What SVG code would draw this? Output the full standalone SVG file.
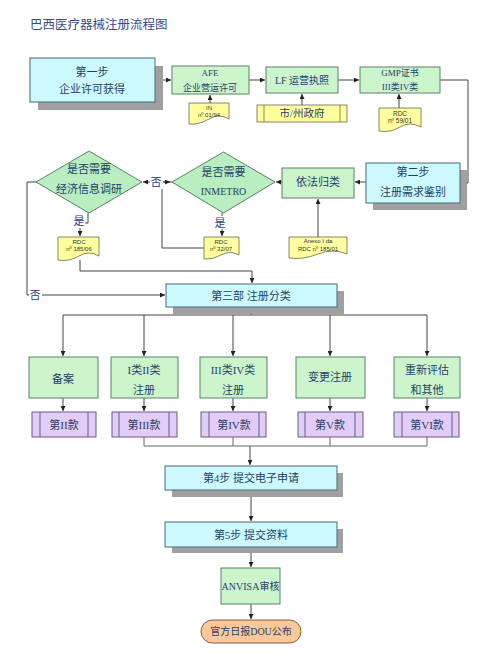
<svg xmlns="http://www.w3.org/2000/svg" width="500" height="656" viewBox="0 0 500 656">
<style>
text{font-family:"Liberation Serif","Noto Sans CJK SC",serif;fill:#1f3f6a;text-anchor:middle;dominant-baseline:central}
.t{font-size:11px}
.s{font-size:9px}
.d{font-family:"Liberation Sans","Noto Sans CJK SC",sans-serif;font-size:6px;fill:#333}
.lbl{font-size:11px;fill:#2a3a8a}
.cy{fill:#ccfaff;stroke:#4a6a78;stroke-width:1}
.gr{fill:#ccf5cc;stroke:#5a8268;stroke-width:1}
.dm{fill:#b8eec0;stroke:#5a8268;stroke-width:1}
.ye{fill:#ffff9e;stroke:#6a6a50;stroke-width:0.8}
.pu{fill:#e2ccf8;stroke:#6a5a82;stroke-width:1}
.sh{fill:#a0a0a0}
.ln{fill:none;stroke:#444;stroke-width:1}
.lg{fill:none;stroke:#666;stroke-width:1}
</style>
<defs>
<marker id="ah" viewBox="0 0 8 8" refX="8" refY="4" markerWidth="5" markerHeight="5" orient="auto">
<path d="M0,0 L8,4 L0,8 z" fill="#222"/>
</marker>
</defs>
<rect width="500" height="656" fill="#fff"/>
<text x="30" y="25" style="font-size:12.5px;fill:#3a4a8a;text-anchor:start">巴西医疗器械注册流程图</text>

<g id="connectors">
<path class="ln" d="M155,80 H171" marker-end="url(#ah)"/>
<path class="ln" d="M210,103 V95" marker-end="url(#ah)"/>
<path class="ln" d="M249,80 H265" marker-end="url(#ah)"/>
<path class="ln" d="M302,105 V94" marker-end="url(#ah)"/>
<path class="ln" d="M338,80 H359" marker-end="url(#ah)"/>
<path class="ln" d="M399,108 V94" marker-end="url(#ah)"/>
<path class="ln" d="M440,80 H468 V183 H461" marker-end="url(#ah)"/>
<path class="ln" d="M366,182 H355" marker-end="url(#ah)"/>
<path class="ln" d="M318,237 V199" marker-end="url(#ah)"/>
<path class="ln" d="M282,182 H276" marker-end="url(#ah)"/>
<path class="ln" d="M172,182 H143" marker-end="url(#ah)"/>
<path class="ln" d="M204,248 H162 V182 H170" marker-end="url(#ah)"/>
<path class="ln" d="M222,213 V236" marker-end="url(#ah)"/>
<path class="ln" d="M88,213 V223 H80 V236" marker-end="url(#ah)"/>
<path class="ln" d="M80,260 V271 H252 V283" marker-end="url(#ah)"/>
<path class="ln" d="M36,182 H27 V295 H165" marker-end="url(#ah)"/>
<path class="ln" d="M251,307 V315 M63,315 H427"/>
<path class="ln" d="M63,315 V356" marker-end="url(#ah)"/>
<path class="ln" d="M144,315 V356" marker-end="url(#ah)"/>
<path class="ln" d="M233,315 V356" marker-end="url(#ah)"/>
<path class="ln" d="M330,315 V356" marker-end="url(#ah)"/>
<path class="ln" d="M427,315 V356" marker-end="url(#ah)"/>
<path class="ln" d="M63,398 V411" marker-end="url(#ah)"/>
<path class="ln" d="M144,398 V411" marker-end="url(#ah)"/>
<path class="ln" d="M233,398 V411" marker-end="url(#ah)"/>
<path class="ln" d="M330,398 V411" marker-end="url(#ah)"/>
<path class="ln" d="M427,398 V411" marker-end="url(#ah)"/>
<path class="lg" d="M144,437 V446 H427 V437 M233,437 V446 M330,437 V446"/>
<path class="ln" d="M250,446 V465" marker-end="url(#ah)"/>
<path class="ln" d="M251,490 V521" marker-end="url(#ah)"/>
<path class="ln" d="M251,547 V567" marker-end="url(#ah)"/>
<path class="ln" d="M251,604 V619" marker-end="url(#ah)"/>
<rect x="150" y="175" width="13" height="14" fill="#fff"/>
<text class="lbl" x="156" y="182">否</text>
<rect x="29" y="288" width="13" height="14" fill="#fff"/>
<text class="lbl" x="35" y="295">否</text>
<rect x="73" y="215" width="12" height="13" fill="#fff"/>
<text class="lbl" x="79" y="221">是</text>
<rect x="214" y="216" width="13" height="13" fill="#fff"/>
<text class="lbl" x="220" y="223">是</text>
</g>

<g id="step1">
<rect class="sh" x="38" y="66" width="125" height="44"/>
<rect class="cy" x="30" y="58" width="125" height="44"/>
<text class="t" x="92" y="72">第一步</text>
<text class="t" x="92" y="89">企业许可获得</text>
</g>
<g id="afe">
<rect class="gr" x="172" y="66" width="77" height="28"/>
<text class="s" x="210" y="73">AFE</text>
<text class="s" x="210" y="88">企业营运许可</text>
</g>
<g id="doc-in">
<path class="ye" d="M189,103 H229 V119 Q219,113 209,119 T189,124 Z"/>
<text class="d" x="209" y="108">IN</text>
<text class="d" x="209" y="115">nº 01/94</text>
</g>
<g id="lf">
<rect class="gr" x="266" y="67" width="72" height="26"/>
<text class="t" x="302" y="80" style="font-size:10px">LF 运营执照</text>
</g>
<g id="gov">
<rect class="ye" x="257" y="105" width="90" height="17"/>
<path d="M264,105 V122 M340,105 V122" stroke="#6a6a50" stroke-width="0.8"/>
<text class="t" x="302" y="113.5" style="font-size:10.5px">市/州政府</text>
</g>
<g id="gmp">
<rect class="gr" x="360" y="67" width="80" height="26"/>
<text class="s" x="400" y="73">GMP证书</text>
<text class="s" x="400" y="87">III类IV类</text>
</g>
<g id="doc-5901">
<path class="ye" d="M379,108 H421 V127 Q410,121 400,127 T379,131 Z"/>
<text class="d" x="400" y="113" style="font-size:6.5px">RDC</text>
<text class="d" x="400" y="120" style="font-size:6.5px">nº 59/01</text>
</g>
<g id="step2">
<rect class="sh" x="373" y="170" width="94" height="40"/>
<rect class="cy" x="366" y="163" width="94" height="40"/>
<text class="t" x="413" y="172">第二步</text>
<text class="t" x="413" y="192">注册需求鉴别</text>
</g>
<g id="classify">
<rect class="gr" x="282" y="168" width="72" height="30"/>
<text class="t" x="318" y="182">依法归类</text>
</g>
<g id="doc-anexo">
<path class="ye" d="M289,237 H347 V254 Q333,248 318,254 T289,258 Z"/>
<text class="d" x="318" y="241">Anexo I da</text>
<text class="d" x="318" y="249">RDC nº 185/01</text>
</g>
<g id="inmetro">
<path class="dm" d="M223.5,152 L275,182 L223.5,213 L172,182 Z"/>
<text class="t" x="223.5" y="172">是否需要</text>
<text class="t" x="223.5" y="191" style="font-size:10px">INMETRO</text>
</g>
<g id="econ">
<path class="dm" d="M89,151 L142,182 L89,213 L36,182 Z"/>
<text class="t" x="89" y="169">是否需要</text>
<text class="t" x="89" y="189">经济信息调研</text>
</g>
<g id="doc-3207">
<path class="ye" d="M204,237 H239 V255 Q230,250 221,255 T204,259 Z"/>
<text class="d" x="221" y="242">RDC</text>
<text class="d" x="221" y="249">nº 32/07</text>
</g>
<g id="doc-18506">
<path class="ye" d="M58,237 H99 V256 Q89,250 79,256 T58,260 Z"/>
<text class="d" x="79" y="242">RDC</text>
<text class="d" x="79" y="249">nº 185/06</text>
</g>
<g id="step3">
<rect class="sh" x="173" y="291" width="171" height="23"/>
<rect class="cy" x="166" y="284" width="171" height="23"/>
<text class="t" x="251" y="295.5">第三部  注册分类</text>
</g>
<g id="cat1">
<rect class="gr" x="29" y="357" width="69" height="41"/>
<text class="t" x="63" y="379">备案</text>
</g>
<g id="cat2">
<rect class="gr" x="111" y="357" width="67" height="41"/>
<text class="t" x="144" y="370">I类II类</text>
<text class="t" x="144" y="390">注册</text>
</g>
<g id="cat3">
<rect class="gr" x="200" y="357" width="67" height="41"/>
<text class="t" x="233" y="370">III类IV类</text>
<text class="t" x="233" y="390">注册</text>
</g>
<g id="cat4">
<rect class="gr" x="296" y="357" width="69" height="41"/>
<text class="t" x="330" y="377">变更注册</text>
</g>
<g id="cat5">
<rect class="gr" x="394" y="357" width="66" height="41"/>
<text class="t" x="427" y="370">重新评估</text>
<text class="t" x="427" y="390">和其他</text>
</g>
<g id="art2">
<rect class="pu" x="32" y="412" width="64" height="25"/>
<path d="M40,412 V437 M88,412 V437" stroke="#6a5a82"/>
<text class="t" x="64" y="425">第II款</text>
</g>
<g id="art3">
<rect class="pu" x="112" y="412" width="65" height="25"/>
<path d="M119,412 V437 M169,412 V437" stroke="#6a5a82"/>
<text class="t" x="144" y="425">第III款</text>
</g>
<g id="art4">
<rect class="pu" x="201" y="412" width="65" height="25"/>
<path d="M209,412 V437 M259,412 V437" stroke="#6a5a82"/>
<text class="t" x="234" y="425">第IV款</text>
</g>
<g id="art5">
<rect class="pu" x="298" y="412" width="65" height="25"/>
<path d="M305,412 V437 M355,412 V437" stroke="#6a5a82"/>
<text class="t" x="330" y="425">第V款</text>
</g>
<g id="art6">
<rect class="pu" x="394" y="412" width="65" height="25"/>
<path d="M402,412 V437 M452,412 V437" stroke="#6a5a82"/>
<text class="t" x="427" y="425">第VI款</text>
</g>
<g id="step4">
<rect class="sh" x="172" y="473" width="171" height="24"/>
<rect class="cy" x="165" y="466" width="172" height="24"/>
<text class="t" x="251" y="478">第4步  提交电子申请</text>
</g>
<g id="step5">
<rect class="sh" x="172" y="529" width="171" height="24"/>
<rect class="cy" x="165" y="522" width="172" height="25"/>
<text class="t" x="251" y="534.5">第5步  提交资料</text>
</g>
<g id="anvisa">
<rect class="gr" x="221" y="568" width="59" height="36"/>
<text class="t" x="250.5" y="586" style="font-size:10px">ANVISA审核</text>
</g>
<g id="dou">
<rect x="201" y="620" width="100" height="23" rx="11.5" fill="#fbc999" stroke="#8a5a3a" stroke-width="1"/>
<text class="t" x="251" y="631.5" style="font-size:10px">官方日报DOU公布</text>
</g>
</svg>
